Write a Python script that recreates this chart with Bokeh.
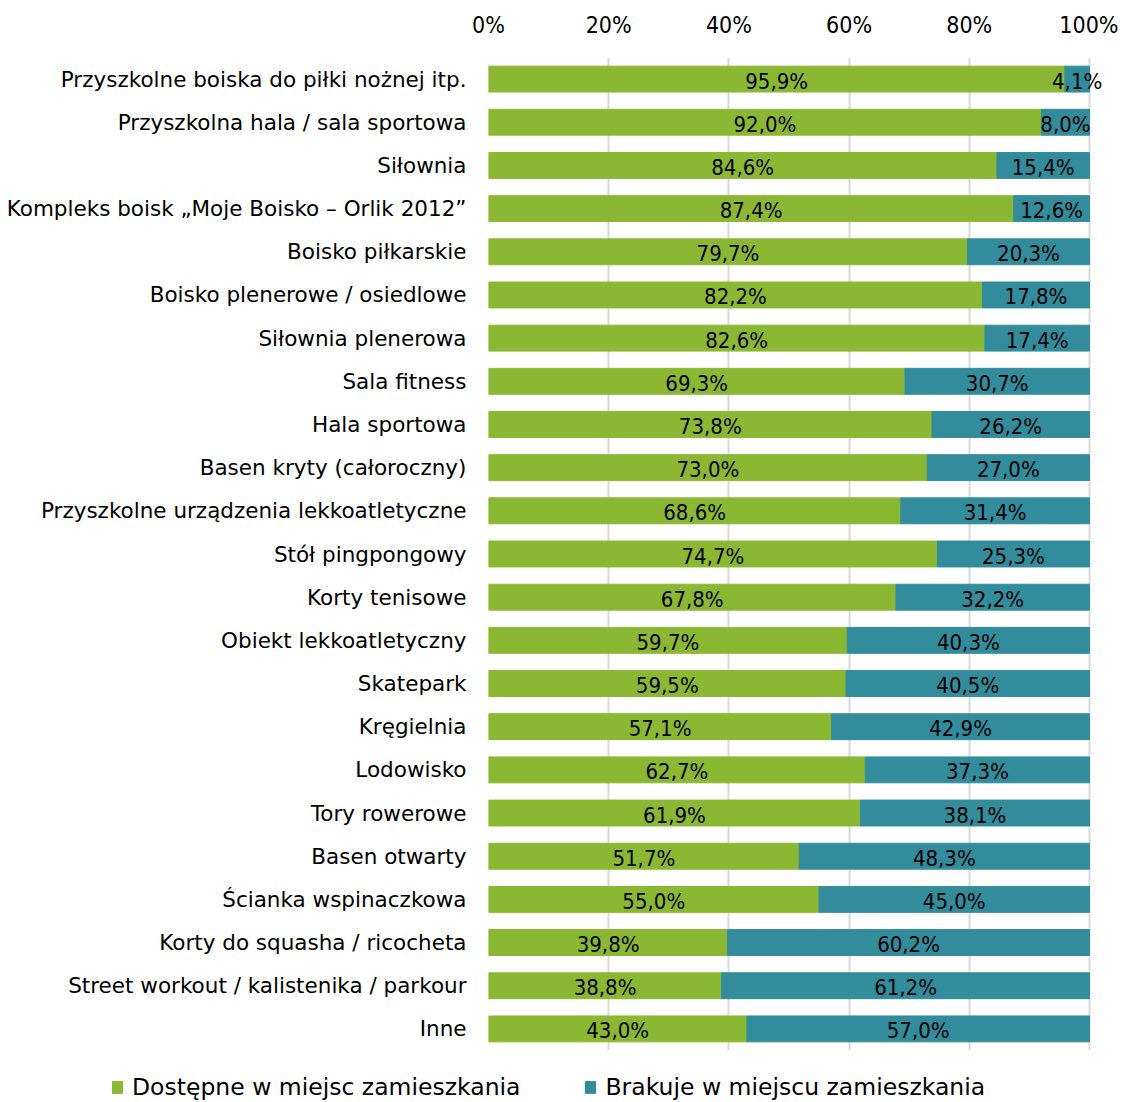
from bokeh.plotting import figure
from bokeh.layouts import column
from bokeh.models import ColumnDataSource, FixedTicker, Legend, LegendItem, CustomJSTickFormatter, FactorRange
from bokeh.core.properties import value
from bokeh.embed import file_html
from bokeh.resources import INLINE

categories = [
    "Przyszkolne boiska do piłki nożnej itp.",
    "Przyszkolna hala / sala sportowa",
    "Siłownia",
    "Kompleks boisk „Moje Boisko – Orlik 2012”",
    "Boisko piłkarskie",
    "Boisko plenerowe / osiedlowe",
    "Siłownia plenerowa",
    "Sala fitness",
    "Hala sportowa",
    "Basen kryty (całoroczny)",
    "Przyszkolne urządzenia lekkoatletyczne",
    "Stół pingpongowy",
    "Korty tenisowe",
    "Obiekt lekkoatletyczny",
    "Skatepark",
    "Kręgielnia",
    "Lodowisko",
    "Tory rowerowe",
    "Basen otwarty",
    "Ścianka wspinaczkowa",
    "Korty do squasha / ricocheta",
    "Street workout / kalistenika / parkour",
    "Inne",
]
dostepne = [95.9, 92.0, 84.6, 87.4, 79.7, 82.2, 82.6, 69.3, 73.8, 73.0, 68.6, 74.7,
            67.8, 59.7, 59.5, 57.1, 62.7, 61.9, 51.7, 55.0, 39.8, 38.8, 43.0]
brakuje = [4.1, 8.0, 15.4, 12.6, 20.3, 17.8, 17.4, 30.7, 26.2, 27.0, 31.4, 25.3,
           32.2, 40.3, 40.5, 42.9, 37.3, 38.1, 48.3, 45.0, 60.2, 61.2, 57.0]
series_names = ["Dostępne w miejsc zamieszkania", "Brakuje w miejscu zamieszkania"]
x_ticks = [0, 20, 40, 60, 80, 100]

GREEN = "#8BB833"
TEAL = "#338C9C"
NUM_FONT = "DejaVu Sans Condensed"
LAB_FONT = "DejaVu Sans"

def fmt(v):
    return f"{v:.1f}".replace(".", ",") + "%"

src = ColumnDataSource(dict(
    cat=categories,
    a_end=dostepne,
    b_end=[x + y for x, y in zip(dostepne, brakuje)],
    a_mid=[x / 2 for x in dostepne],
    b_mid=[x + y / 2 for x, y in zip(dostepne, brakuje)],
    a_lab=[fmt(v) for v in dostepne],
    b_lab=[fmt(v) for v in brakuje],
))

p = figure(y_range=list(reversed(categories)), x_range=(0, 103),
           width=1118, height=1053, frame_width=619, frame_height=993,
           output_backend="svg", toolbar_location=None,
           x_axis_location="above",
           min_border_left=488, min_border_right=11, min_border_top=57, min_border_bottom=3)

p.hbar(y="cat", left=0, right="a_end", height=0.6, color=GREEN, source=src)
p.hbar(y="cat", left="a_end", right="b_end", height=0.6, color=TEAL, source=src)

for xcol, lcol in (("a_mid", "a_lab"), ("b_mid", "b_lab")):
    p.text(x=xcol, y="cat", text=lcol, source=src, text_align="center",
           text_baseline="middle", text_font=value(NUM_FONT), text_font_size="22px",
           text_color="black", y_offset=2)

p.xaxis.ticker = FixedTicker(ticks=x_ticks)
p.xaxis.formatter = CustomJSTickFormatter(code="return tick + '%';")
p.xaxis.axis_line_color = None
p.xaxis.major_tick_line_color = None
p.xaxis.minor_tick_line_color = None
p.xaxis.major_label_text_font = NUM_FONT
p.xaxis.major_label_text_font_size = "23px"
p.xaxis.major_label_text_color = "black"
p.xaxis.major_label_standoff = 14

p.yaxis.axis_line_color = None
p.yaxis.major_tick_line_color = None
p.yaxis.minor_tick_line_color = None
p.yaxis.major_label_text_font = LAB_FONT
p.yaxis.major_label_text_font_size = "21.5px"
p.yaxis.major_label_text_color = "black"
p.yaxis.major_label_standoff = 16

p.xgrid.grid_line_color = "#D9D9D9"
p.xgrid.grid_line_width = 2
p.ygrid.grid_line_color = None
p.outline_line_color = None
p.y_range.range_padding = 0

# legend strip (its zero-height bars are invisible; they only carry the legend swatches)
lf = figure(width=1118, height=49, output_backend="svg", toolbar_location=None,
            x_axis_type=None, y_axis_type=None, min_border=0,
            x_range=(0, 100), y_range=FactorRange(factors=categories))
legend_x = 110
try:
    lf.frame_align = False
    p.frame_align = False
except AttributeError:
    legend_x = 110 - 488
lf.outline_line_color = None
lf.xgrid.grid_line_color = None
lf.ygrid.grid_line_color = None
lr1 = lf.hbar(y="cat", left=0, right="a_end", height=0, fill_color=GREEN,
              line_alpha=0, source=src)
lr2 = lf.hbar(y="cat", left="a_end", right="b_end", height=0, fill_color=TEAL,
              line_alpha=0, source=src)

legend = Legend(items=[LegendItem(label=series_names[0], renderers=[lr1]),
                       LegendItem(label=series_names[1], renderers=[lr2])],
                orientation="horizontal", location=(legend_x, 1),
                label_text_font=LAB_FONT, label_text_font_size="23.5px",
                label_text_color="black",
                glyph_width=14, glyph_height=16, label_standoff=8, spacing=63,
                border_line_color=None, background_fill_alpha=0, padding=0, margin=0)
lf.add_layout(legend, "center")

layout = column(p, lf, spacing=0)
open("out.html", "w").write(file_html(layout, INLINE))
